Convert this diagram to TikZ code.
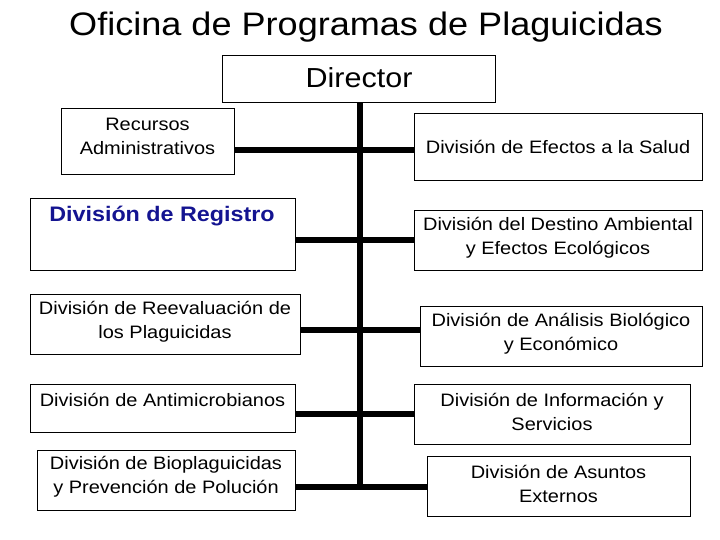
\documentclass[tikz,border=0pt]{standalone}
\usepackage{fontspec}
\setmainfont[FakeStretch=1.11]{Liberation Sans}
\definecolor{regblue}{RGB}{20,20,145}
\begin{document}
\begin{tikzpicture}[x=1pt,y=-1pt,
  box/.style={draw=black, line width=0.9pt, fill=white, inner sep=0pt},
  txt/.style={inner sep=0pt, align=center, font=\fontsize{18}{24}\selectfont},
  conn/.style={line width=6pt}]
\useasboundingbox (0,0) rectangle (720,540);
% title
\node[inner sep=0pt, font=\fontsize{32.5}{36}\selectfont] (title) at (366,27) {Oficina de Programas de Plaguicidas};
% director
\node[box, minimum width=273pt, minimum height=47pt] (dir) at (358.5,78.5) {};
\node[inner sep=0pt, font=\fontsize{27.5}{30}\selectfont] (dirt) at (359,78) {Director};
% junction coordinates on the spine
\coordinate (j1) at (360,150);
\coordinate (j2) at (360,240);
\coordinate (j3) at (360,330);
\coordinate (j4) at (360,414);
\coordinate (j5) at (360,487);
% left boxes
\node[box, minimum width=173pt, minimum height=66pt] (L1) at (147.5,141) {};
\node[box, minimum width=265pt, minimum height=72pt] (L2) at (162.5,234) {};
\node[box, minimum width=270pt, minimum height=60pt] (L3) at (165,324) {};
\node[box, minimum width=265pt, minimum height=48pt] (L4) at (162.5,408) {};
\node[box, minimum width=258pt, minimum height=60pt] (L5) at (166,480) {};
% right boxes
\node[box, minimum width=288pt, minimum height=67pt] (R1) at (558,146.5) {};
\node[box, minimum width=288pt, minimum height=60pt] (R2) at (558,240) {};
\node[box, minimum width=282pt, minimum height=60pt] (R3) at (561,336) {};
\node[box, minimum width=276pt, minimum height=60pt] (R4) at (552,414) {};
\node[box, minimum width=263pt, minimum height=60pt] (R5) at (558.5,486) {};
% connectors
\draw[conn] (dir.south -| j1) -- (j5);
\draw[conn] (L1.east |- j1) -- (R1.west |- j1);
\draw[conn] (L2.east |- j2) -- (R2.west |- j2);
\draw[conn] (L3.east |- j3) -- (R3.west |- j3);
\draw[conn] (L4.east |- j4) -- (R4.west |- j4);
\draw[conn] (L5.east |- j5) -- (R5.west |- j5);
% texts
\node[txt] (L1t) at (147.5,136) {Recursos\\Administrativos};
\node[txt, text=regblue, font=\fontsize{21}{24}\selectfont\bfseries] (L2t) at (162,216) {División de Registro};
\node[txt] (L3t) at (165,322) {División de Reevaluación de\\los Plaguicidas};
\node[txt] (L4t) at (162.5,400) {División de Antimicrobianos};
\node[txt] (L5t) at (166,477) {División de Bioplaguicidas\\y Prevención de Polución};
\node[txt] (R1t) at (558,147) {División de Efectos a la Salud};
\node[txt] (R2t) at (558,238) {División del Destino Ambiental\\y Efectos Ecológicos};
\node[txt] (R3t) at (561,334) {División de Análisis Biológico\\y Económico};
\node[txt] (R4t) at (552,412) {División de Información y\\Servicios};
\node[txt] (R5t) at (558.5,484) {División de Asuntos\\Externos};
\end{tikzpicture}
\end{document}
